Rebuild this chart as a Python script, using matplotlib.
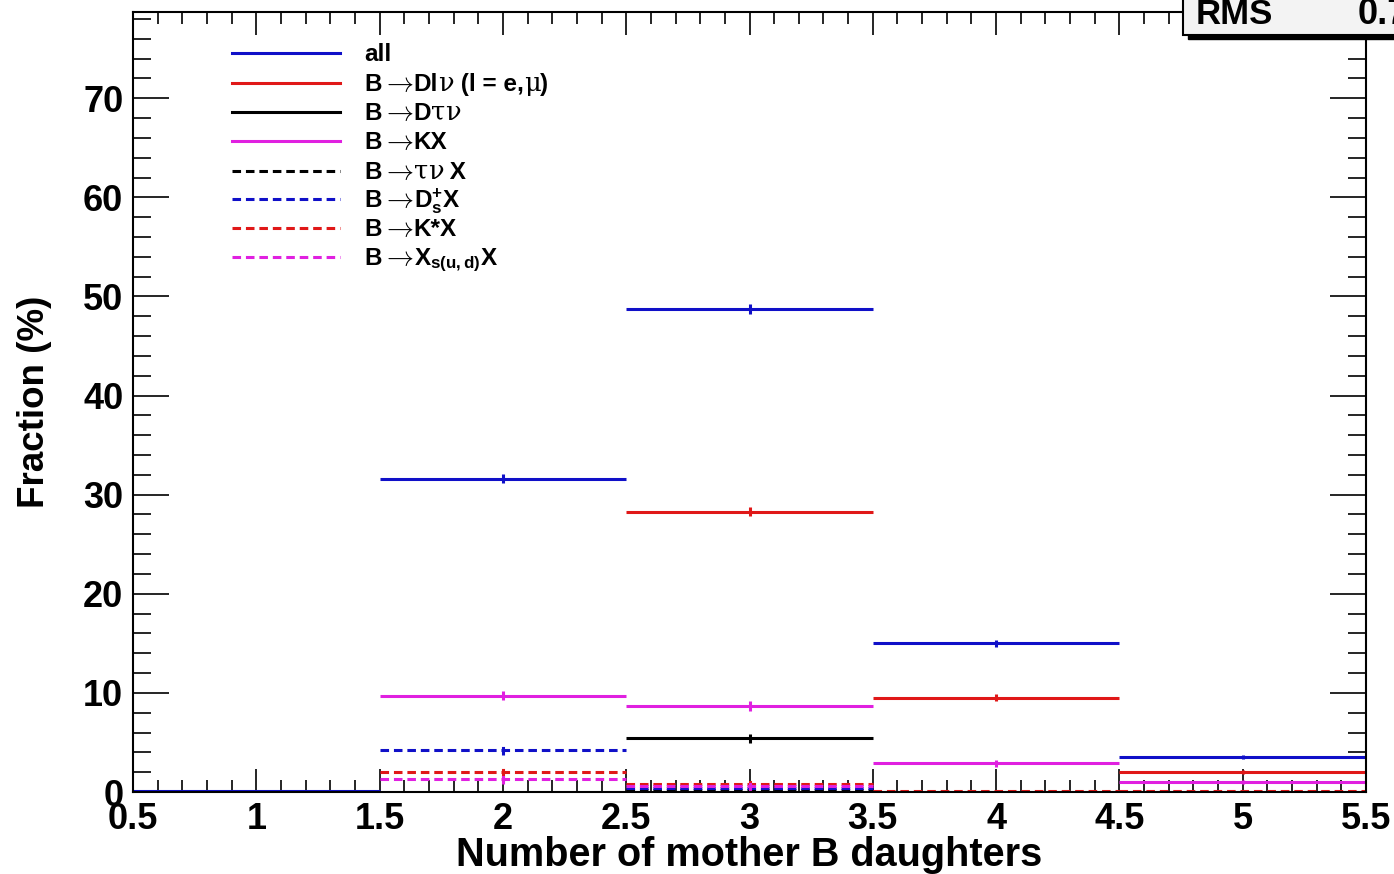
import matplotlib
matplotlib.use("Agg")
import matplotlib.pyplot as plt
from matplotlib.lines import Line2D
from matplotlib.patches import Rectangle
import numpy as np

plt.rcParams['font.family'] = ['Liberation Sans', 'DejaVu Sans']
plt.rcParams['font.weight'] = 'bold'
plt.rcParams['mathtext.fontset'] = 'custom'
plt.rcParams['mathtext.rm'] = 'Liberation Sans:bold'
plt.rcParams['mathtext.it'] = 'Liberation Sans:bold'
plt.rcParams['mathtext.bf'] = 'Liberation Sans:bold'

nan = np.nan
# ---------------- data (nan = empty bin, not drawn) ----------------
bin_centers = [1, 2, 3, 4, 5]
all_vals    = [0.1, 31.6, 48.7, 15.0, 3.5]
dlnu_vals   = [nan, nan, 28.3, 9.5, 2.0]
dtaunu_vals = [nan, nan, 5.4, nan, nan]
kx_vals     = [nan, 9.7, 8.7, 2.9, 1.0]
taunux_vals = [nan, nan, 0.2, nan, nan]
dsx_vals    = [nan, 4.2, 0.4, nan, 0.05]
kstarx_vals = [nan, 2.0, 0.8, 0.1, 0.1]
xsx_vals    = [nan, 1.3, 0.6, nan, nan]
err_vals    = [0.0, 0.45, 0.5, 0.35, 0.2]

labels = ['all',
          'B\u2192Dl\u03bd (l = e,\u03bc)',
          'B\u2192D\u03c4\u03bd',
          'B\u2192KX',
          'B\u2192\u03c4\u03bd X',
          'B\u2192D$_{s}^{+}$X',
          'B\u2192K*X',
          'B\u2192X$_{s(u,d)}$X']
series = [all_vals, dlnu_vals, dtaunu_vals, kx_vals,
          taunux_vals, dsx_vals, kstarx_vals, xsx_vals]
colors = ['#1010c8', '#e01818', '#000000', '#e020e0',
          '#000000', '#1010c8', '#e01818', '#e020e0']
styles = ['-', '-', '-', '-', 'd', 'd', 'd', 'd']

x_ticks = [0.5, 1, 1.5, 2, 2.5, 3, 3.5, 4, 4.5, 5, 5.5]
x_ticklabels = ['0.5', '1', '1.5', '2', '2.5', '3', '3.5', '4', '4.5', '5', '5.5']
y_ticks = [0, 10, 20, 30, 40, 50, 60, 70]

dash = (0, (2.8, 1.6))

W, H = 1394, 874
fig = plt.figure(figsize=(W / 100, H / 100), dpi=100)
ax = fig.add_axes([133 / W, 1 - 792 / H, (1366 - 133) / W, (792 - 12) / H])

lw = 2.2
for vals, c, st in zip(series, colors, styles):
    ls = dash if st == 'd' else '-'
    vals = np.array(vals, dtype=float)
    yerr = [e if (v > 0.5) else 0 for e, v in zip(err_vals, vals)]
    eb = ax.errorbar(bin_centers, vals, xerr=0.5, yerr=yerr, fmt='none',
                     ecolor=c, elinewidth=lw, capsize=0)
    for coll in eb[2]:
        coll.set_linestyle(ls)

ax.set_xlim(0.5, 5.5)
ax.set_ylim(0, 78.7)
ax.set_xticks(x_ticks)
ax.set_xticklabels(x_ticklabels)
ax.set_yticks(y_ticks)
ax.set_xticks(np.arange(0.5, 5.51, 0.1), minor=True)
ax.set_yticks(np.arange(0, 78.7, 2), minor=True)

ax.tick_params(which='both', direction='in', top=True, right=True,
               labelsize=26, width=1.2, pad=7)
ax.tick_params(axis='x', which='major', length=16.5)
ax.tick_params(axis='x', which='minor', length=8.5)
ax.tick_params(axis='y', which='major', length=26)
ax.tick_params(axis='y', which='minor', length=13)
for lab in ax.get_xticklabels() + ax.get_yticklabels():
    lab.set_fontweight('bold')
for sp in ax.spines.values():
    sp.set_linewidth(1.5)

ax.set_xlabel('Number of mother B daughters', fontsize=28.5, fontweight='bold')
ax.xaxis.set_label_coords(0.5, (792 - 836) / 780)
ax.set_ylabel('Fraction (%)', fontsize=26.5, fontweight='bold')
ax.yaxis.set_label_coords((52 - 133) / 1233, 0.5)


# legend (manual, ROOT style); arrow and greek letters in a symbol-like font
renderer = fig.canvas.get_renderer()


def split_label(s, fs=17.5):
    pieces = []
    cur = ''
    for ch in s:
        if ch == '\u2192':
            if cur:
                pieces.append((cur, dict(fontsize=fs, fontweight='bold')))
                cur = ''
            pieces.append(('$\\rightarrow$', dict(fontsize=fs + 2, math_fontfamily='cm',
                                                  fontweight='normal')))
        elif ch in '\u03bd\u03c4\u03bc':
            if cur:
                pieces.append((cur, dict(fontsize=fs, fontweight='bold')))
                cur = ''
            pieces.append((ch, dict(fontsize=fs + 1, family='DejaVu Serif',
                                    fontweight='normal')))
        else:
            cur += ch
    if cur:
        pieces.append((cur, dict(fontsize=fs, fontweight='bold')))
    return pieces


row_y = [53, 83, 112, 141, 171, 199, 228, 257]
for yy, lab, c, st in zip(row_y, labels, colors, styles):
    ls = dash if st == 'd' else '-'
    fig.add_artist(Line2D([232 / W, 340 / W], [1 - yy / H, 1 - yy / H],
                          color=c, lw=lw, linestyle=ls,
                          transform=fig.transFigure))
    xpx = 364.0
    for txt, props in split_label(lab):
        t = fig.text(xpx / W, 1 - (yy + 8) / H, txt, va='baseline', ha='left', **props)
        bb = t.get_window_extent(renderer)
        xpx = bb.x1

# stats box (partially outside the canvas)
fig.add_artist(Rectangle(((1183 + 5) / W, 1 - (35 + 4) / H), 300 / W, 60 / H,
                         transform=fig.transFigure, facecolor='black',
                         edgecolor='black', zorder=10))
fig.add_artist(Rectangle((1183 / W, 1 - 35 / H), 300 / W, 60 / H,
                         transform=fig.transFigure, facecolor='#f3f3f3',
                         edgecolor='black', lw=1.5, zorder=11))
fig.text(1196 / W, 1 - 24 / H, 'RMS', fontsize=25, fontweight='bold',
         zorder=12, va='baseline')
fig.text(1358 / W, 1 - 24 / H, '0.7746', fontsize=26, fontweight='bold',
         zorder=12, va='baseline')

fig.savefig('out.png', dpi=100)
